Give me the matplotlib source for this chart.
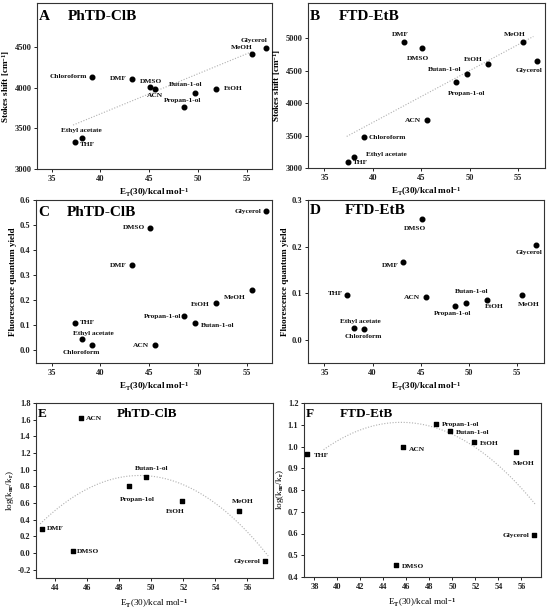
import matplotlib
matplotlib.use("Agg")
import matplotlib.pyplot as plt
from matplotlib.ticker import MultipleLocator, FormatStrFormatter, FixedLocator
import numpy as np

plt.rcParams.update({
    'font.family': ['Liberation Serif', 'DejaVu Serif'],
    'font.weight': 'bold',
    'mathtext.fontset': 'custom',
    'mathtext.rm': 'Liberation Serif:bold',
    'mathtext.it': 'Liberation Serif:italic:bold',
    'mathtext.bf': 'Liberation Serif:bold',
    'axes.unicode_minus': False,
    'axes.linewidth': 0.8,
    'axes.edgecolor': '#333333',
})

# ---------------- data ----------------
solvents = ["THF", "Ethyl acetate", "Chloroform", "DMF", "DMSO", "ACN",
            "Propan-1-ol", "Butan-1-ol", "EtOH", "MeOH", "Glycerol"]
et30 = [37.4, 38.1, 39.1, 43.2, 45.1, 45.6, 48.6, 49.7, 51.9, 55.5, 57.0]

stokes_phtd = [3327, 3384, 4132, 4108, 4005, 3989, 3756, 3936, 3989, 4410, 4490]
stokes_ftd = [3095, 3164, 3484, 4933, 4846, 3738, 4318, 4441, 4605, 4933, 4646]
qy_phtd = [0.110, 0.044, 0.023, 0.340, 0.489, 0.023, 0.136, 0.109, 0.191, 0.240, 0.555]
qy_ftd = [0.097, 0.025, 0.022, 0.166, 0.260, 0.091, 0.072, 0.078, 0.086, 0.095, 0.204]

solv_e = ["DMF", "DMSO", "ACN", "Propan-1ol", "Butan-1-ol", "EtOH", "MeOH", "Glycerol"]
et_e = [43.2, 45.1, 45.6, 48.6, 49.7, 51.9, 55.5, 57.1]
log_e = [0.291, 0.019, 1.617, 0.802, 0.908, 0.628, 0.502, -0.099]

solv_f = ["THF", "DMSO", "ACN", "Propan-1-ol", "Butan-1-ol", "EtOH", "MeOH", "Glycerol"]
et_f = [37.4, 45.1, 45.7, 48.6, 49.8, 51.9, 55.5, 57.1]
log_f = [0.967, 0.455, 0.996, 1.105, 1.073, 1.019, 0.975, 0.592]

stokes_ticks = [3000, 3500, 4000, 4500]
stokes_ticks_b = [3000, 3500, 4000, 4500, 5000]

# trend lines
trend_a_x = [37.2, 55.5]
trend_a_y = [3540, 4440]
trend_b_x = [37.3, 56.6]
trend_b_y = [3486, 5025]
# quadratic fits, vertex form: (a, h, k, x_start, x_end)
fit_e = (-0.01501, 49.28, 0.93, 43.06, 57.3)
fit_f = (-0.00277, 45.54, 1.111, 38.8, 57.24)

# ---------------- label placement (pixel offsets, ha) ----------------
off_a = {"THF": (5, -2, 'left'), "Ethyl acetate": (0, 7, 'center'),
         "Chloroform": (-5, 0, 'right'), "DMF": (-5, 0, 'right'),
         "DMSO": (1, 6, 'center'), "ACN": (0, -7, 'center'),
         "Propan-1-ol": (-2, 7, 'center'), "Butan-1-ol": (-9, 8, 'center'),
         "EtOH": (7, 0, 'left'), "MeOH": (-10, 7, 'center'),
         "Glycerol": (-12, 7, 'center')}
off_b = {"THF": (5, -1, 'left'), "Ethyl acetate": (12, 3, 'left'),
         "Chloroform": (5, -1, 'left'), "DMF": (-3, 8, 'center'),
         "DMSO": (-4, -10, 'center'), "ACN": (-6, 0, 'right'),
         "Propan-1-ol": (11, -11, 'center'), "Butan-1-ol": (-22, 5, 'center'),
         "EtOH": (-15, 4, 'center'), "MeOH": (-8, 8, 'center'),
         "Glycerol": (-8, -9, 'center')}
off_c = {"THF": (5, 0, 'left'), "Ethyl acetate": (12, 6, 'center'),
         "Chloroform": (-10, -8, 'center'), "DMF": (-5, 0, 'right'),
         "DMSO": (-5, 0, 'right'), "ACN": (-6, -1, 'right'),
         "Propan-1-ol": (-3, 0, 'right'), "Butan-1-ol": (6, -2, 'left'),
         "EtOH": (-7, -2, 'right'), "MeOH": (-17, -7, 'center'),
         "Glycerol": (-5, 0, 'right')}
off_d = {"THF": (-4, 1, 'right'), "Ethyl acetate": (6, 7, 'center'),
         "Chloroform": (-1, -7, 'center'), "DMF": (-5, -3, 'right'),
         "DMSO": (-7, -10, 'center'), "ACN": (-6, 0, 'right'),
         "Propan-1-ol": (-3, -7, 'center'), "Butan-1-ol": (6, 12, 'center'),
         "EtOH": (7, -7, 'center'), "MeOH": (7, -9, 'center'),
         "Glycerol": (-7, -8, 'center')}
off_e = {"DMF": (4, 0, 'left'), "DMSO": (4, 0, 'left'), "ACN": (5, 0, 'left'),
         "Propan-1ol": (8, -13, 'center'), "Butan-1-ol": (5, 9, 'center'),
         "EtOH": (-6, -11, 'center'), "MeOH": (3, 10, 'center'),
         "Glycerol": (-5, 0, 'right')}
off_f = {"THF": (6, -2, 'left'), "DMSO": (6, -1, 'left'), "ACN": (6, -2, 'left'),
         "Propan-1-ol": (6, -1, 'left'), "Butan-1-ol": (6, -2, 'left'),
         "EtOH": (6, -1, 'left'), "MeOH": (8, -12, 'center'),
         "Glycerol": (-5, 0, 'right')}

W, H = 550, 609
fig = plt.figure(figsize=(W / 100, H / 100), dpi=100)


def rect(l, t, r, b):
    return [l / W, 1 - b / H, (r - l) / W, (b - t) / H]


XLAB = r"E$_\mathrm{T}$(30)/kcal mol$^\mathrm{-1}$"
LBL_FS = 5.3
TICK_FS = 6.0
AX_FS = 6.6


def style(ax, xlim, ylim, xmaj, ymaj, yfmt=None):
    ax.set_xlim(*xlim)
    ax.set_ylim(*ylim)
    ax.xaxis.set_major_locator(MultipleLocator(xmaj))
    if isinstance(ymaj, list):
        ax.yaxis.set_major_locator(FixedLocator(ymaj))
    else:
        ax.yaxis.set_major_locator(MultipleLocator(ymaj))
    if yfmt:
        ax.yaxis.set_major_formatter(FormatStrFormatter(yfmt))
    ax.tick_params(direction='out', length=2.5, width=0.7, labelsize=TICK_FS,
                   pad=1.5, colors='#222222')
    for lab in ax.get_xticklabels() + ax.get_yticklabels():
        lab.set_fontweight('bold')


def labels(ax, names, xs, ys, offs):
    for n, x, y in zip(names, xs, ys):
        dx, dy, ha = offs[n]
        ax.annotate(n, (x, y), xytext=(dx, dy), textcoords='offset pixels',
                    ha=ha, va='center', fontsize=LBL_FS, fontweight='bold',
                    color='#111111')


def title(ax, letter, name, dx_name, fs, dy=-14):
    ax.annotate(letter, (0, 1), xycoords='axes fraction', xytext=(2, dy),
                textcoords='offset pixels', ha='left', va='center',
                fontsize=fs, fontweight='bold')
    ax.annotate(name, (0, 1), xycoords='axes fraction', xytext=(dx_name, dy),
                textcoords='offset pixels', ha='left', va='center',
                fontsize=fs, fontweight='bold')


def parabola(ax, fit):
    a, h, k, x0, x1 = fit
    xx = np.linspace(x0, x1, 120)
    ax.plot(xx, a * (xx - h) ** 2 + k, ls=(0, (1, 1.5)), color='#b0b0b0', lw=0.8)


# A
axA = fig.add_axes(rect(37, 3, 272, 169))
axA.plot(trend_a_x, trend_a_y, ls=(0, (1, 1.5)), color='#b0b0b0', lw=0.8)
axA.scatter(et30, stokes_phtd, s=11, color='black', zorder=3)
labels(axA, solvents, et30, stokes_phtd, off_a)
style(axA, (33.5, 57.6), (3000, 5040), 5, stokes_ticks)
axA.set_ylabel(r"Stokes shift [cm$^\mathrm{-1}$]", fontsize=AX_FS, fontweight='bold', labelpad=2)
axA.set_xlabel(XLAB, fontsize=AX_FS, fontweight='bold', labelpad=3)
title(axA, "A", "PhTD-ClB", 31, 11)

# B
axB = fig.add_axes(rect(308, 3, 545, 168))
axB.plot(trend_b_x, trend_b_y, ls=(0, (1, 1.5)), color='#b0b0b0', lw=0.8)
axB.scatter(et30, stokes_ftd, s=11, color='black', zorder=3)
labels(axB, solvents, et30, stokes_ftd, off_b)
style(axB, (33.3, 57.8), (3000, 5540), 5, stokes_ticks_b)
axB.set_ylabel(r"Stokes shift [cm$^\mathrm{-1}$]", fontsize=AX_FS, fontweight='bold', labelpad=2)
axB.set_xlabel(XLAB, fontsize=AX_FS, fontweight='bold', labelpad=3)
title(axB, "B", "FTD-EtB", 31, 11)

# C
axC = fig.add_axes(rect(36, 200, 272, 363))
axC.scatter(et30, qy_phtd, s=11, color='black', zorder=3)
labels(axC, solvents, et30, qy_phtd, off_c)
style(axC, (33.4, 57.6), (-0.05, 0.6), 5, 0.1, '%.1f')
axC.set_ylabel("Fluorescence quantum yield", fontsize=AX_FS, fontweight='bold', labelpad=2)
axC.set_xlabel(XLAB, fontsize=AX_FS, fontweight='bold', labelpad=3)
title(axC, "C", "PhTD-ClB", 31, 11, dy=-13)

# D
axD = fig.add_axes(rect(308, 200, 544, 363))
axD.scatter(et30, qy_ftd, s=11, color='black', zorder=3)
labels(axD, solvents, et30, qy_ftd, off_d)
style(axD, (33.3, 57.8), (-0.05, 0.3), 5, 0.1, '%.1f')
axD.set_ylabel("Fluorescence quantum yield", fontsize=AX_FS, fontweight='bold', labelpad=2)
axD.set_xlabel(XLAB, fontsize=AX_FS, fontweight='bold', labelpad=3)
title(axD, "D", "FTD-EtB", 37, 11, dy=-11)

# E
axE = fig.add_axes(rect(36, 403, 273, 578))
parabola(axE, fit_e)
axE.scatter(et_e, log_e, s=9, marker='s', color='black', zorder=3)
labels(axE, solv_e, et_e, log_e, off_e)
style(axE, (42.8, 57.6), (-0.3, 1.8), 2, 0.2, '%.1f')
axE.set_ylabel(r"log(k$_\mathrm{nr}$/k$_\mathrm{r}$)", fontsize=AX_FS, labelpad=1)
axE.set_xlabel(XLAB, fontsize=AX_FS, labelpad=4)
title(axE, "E", "PhTD-ClB", 81, 9.5, dy=-11)

# F
axF = fig.add_axes(rect(304, 403, 541, 577))
parabola(axF, fit_f)
axF.scatter(et_f, log_f, s=9, marker='s', color='black', zorder=3)
labels(axF, solv_f, et_f, log_f, off_f)
style(axF, (37.1, 57.7), (0.4, 1.2), 2, 0.1, '%.1f')
axF.set_ylabel(r"log(k$_\mathrm{nr}$/k$_\mathrm{r}$)", fontsize=AX_FS, labelpad=1)
axF.set_xlabel(XLAB, fontsize=AX_FS, labelpad=4)
title(axF, "F", "FTD-EtB", 36, 9.5, dy=-11)

fig.savefig("out.png", dpi=100)
